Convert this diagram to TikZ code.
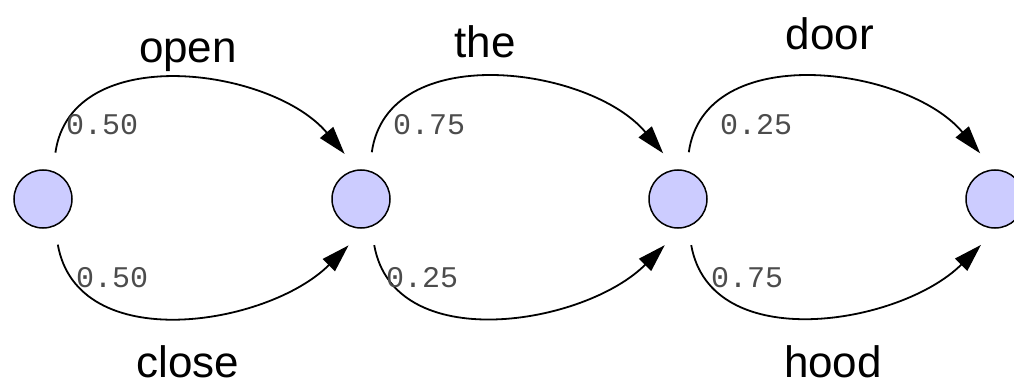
\documentclass[tikz,border=0pt]{standalone}
\usepackage{fontspec}
\setmainfont{Liberation Sans}
\newfontfamily\probfont{Liberation Mono}
\usetikzlibrary{arrows.meta}
\definecolor{statefill}{RGB}{204,204,255}
\tikzset{
  state/.style={circle, draw=black, line width=1.5pt, fill=statefill,
                minimum size=58pt, inner sep=0pt, outer sep=19pt},
  trans/.style={line width=1.8pt, -{Triangle[length=28pt,width=17pt]}},
  word/.style={font=\fontsize{44}{44}\selectfont, anchor=base, inner sep=0pt},
  prob/.style={font=\probfont\fontsize{30}{30}\selectfont, text=black!70, anchor=west, inner sep=0pt}
}
\begin{document}
\begin{tikzpicture}[x=1pt,y=1pt]
\useasboundingbox (0,0) rectangle (1014,386);
\clip (0,0) rectangle (1014,386);
\node[state] (n1) at (43,187) {};
\node[state] (n2) at (361,187) {};
\node[state] (n3) at (678,187) {};
\node[state] (n4) at (995,187) {};

\draw[trans] (n1.75) to[out=82,in=130] (n2.110);
\draw[trans] (n1.-72) to[out=-80,in=-135] (n2.-105);
\draw[trans] (n2.77) to[out=82,in=130] (n3.108);
\draw[trans] (n2.-74) to[out=-80,in=-135] (n3.-106);
\draw[trans] (n3.77) to[out=82,in=130] (n4.108);
\draw[trans] (n3.-74) to[out=-80,in=-135] (n4.-107);

\node[word] (w1) at (188,323) {open};
\node[word] (w2) at (188,9) {close};
\node[word] (w3) at (485,328) {the};
\node[word] (w4) at (830,336) {door};
\node[word] (w5) at (833,9) {hood};

\node[prob] (p1) at (66,261) {0.50};
\node[prob] (p2) at (76,108) {0.50};
\node[prob] (p3) at (393,261) {0.75};
\node[prob] (p4) at (386,108) {0.25};
\node[prob] (p5) at (720,261) {0.25};
\node[prob] (p6) at (711,108) {0.75};
\end{tikzpicture}
\end{document}
